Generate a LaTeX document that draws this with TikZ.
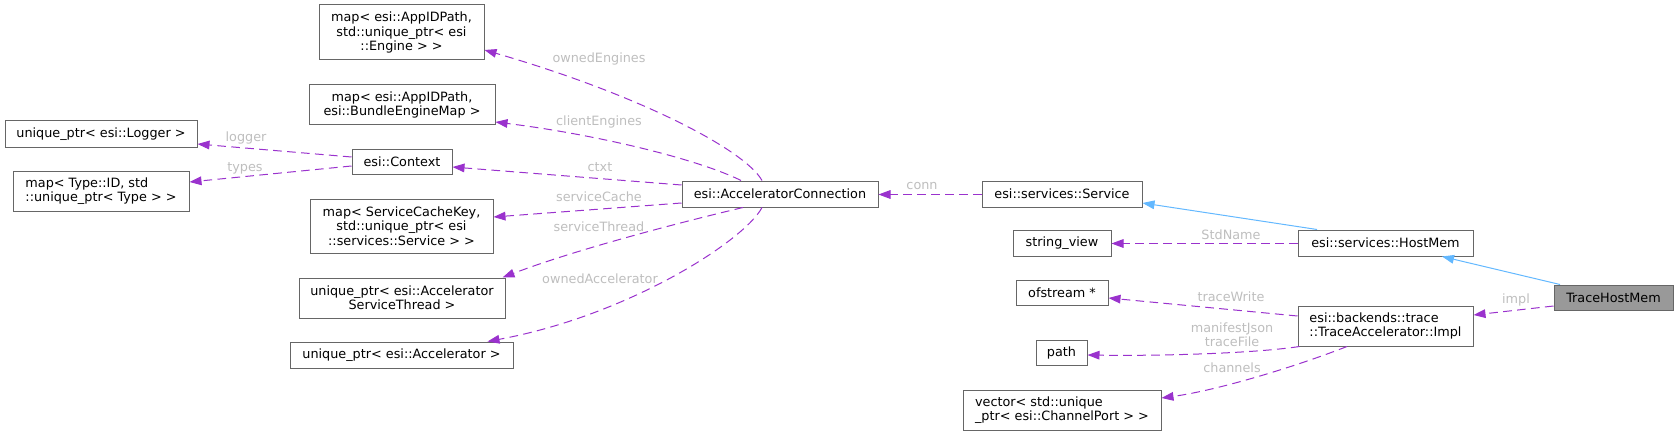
\documentclass[tikz,border=0pt]{standalone}
\usepackage{fontspec}
\setmainfont{DejaVu Sans}
\usetikzlibrary{arrows.meta}
\definecolor{edgepurple}{HTML}{9A32CD}
\definecolor{inhblue}{HTML}{63B8FF}
\definecolor{lblgray}{HTML}{BEBEBE}
\definecolor{boxgray}{HTML}{666666}
\definecolor{fillgray}{HTML}{999999}
\begin{document}
\begin{tikzpicture}[x=0.75pt,y=-0.75pt,
    font=\fontsize{9.6}{10.7}\selectfont,
    cls/.style 2 args={draw=boxgray,fill=white,line width=0.75pt,inner sep=0pt,
        minimum width=#1*0.75pt,minimum height=#2*0.75pt,align=center},
    member/.style={draw=edgepurple,line width=0.75pt,dash pattern=on 6.5pt off 4pt,
        -{Triangle[length=9pt,width=6.5pt]}},
    inherit/.style={draw=inhblue,line width=0.75pt,-{Triangle[length=9pt,width=6.5pt]}},
    lbl/.style={text=lblgray,align=center}]
    \useasboundingbox (0,0) rectangle (1679,435);
    %% classes
    \node[cls={165}{55}] (engines) at (401.5,32.5) {map< esi::AppIDPath,\\std::unique\_ptr< esi\\::Engine > >};
    \node[cls={186}{40}] (bundle) at (402,105) {map< esi::AppIDPath,\\esi::BundleEngineMap >};
    \node[cls={192}{26}] (logger) at (101,134) {unique\_ptr< esi::Logger >};
    \node[cls={100}{25}] (context) at (402,161.5) {esi::Context};
    \node[cls={176}{40},align=left] (types) at (101,191) {map< Type::ID, std\\::unique\_ptr< Type > >};
    \node[cls={183}{54}] (cache) at (401.5,226) {map< ServiceCacheKey,\\std::unique\_ptr< esi\\::services::Service > >};
    \node[cls={206}{40}] (thread) at (402,298) {unique\_ptr< esi::Accelerator\\ServiceThread >};
    \node[cls={223}{26}] (accel) at (401.5,355) {unique\_ptr< esi::Accelerator >};
    \node[cls={196}{26}] (conn) at (780,194) {esi::AcceleratorConnection};
    \node[cls={160}{26}] (service) at (1062,194) {esi::services::Service};
    \node[cls={98}{26}] (strview) at (1062,243) {string\_view};
    \node[cls={92}{25}] (ofstream) at (1062,292.5) {ofstream *};
    \node[cls={51}{25}] (path) at (1061.5,352.5) {path};
    \node[cls={198}{40},align=left] (vector) at (1062,410) {vector< std::unique\\\_ptr< esi::ChannelPort > >};
    \node[cls={175}{26}] (hostmem) at (1385.5,243) {esi::services::HostMem};
    \node[cls={175}{40},align=left] (impl) at (1385.5,326) {esi::backends::trace\\::TraceAccelerator::Impl};
    \node[cls={119}{25},fill=fillgray] (trace) at (1613.5,297.5) {TraceHostMem};
    %% members of the connection
    \draw[member] ([shift={(-18,0)}]conn.north) .. controls (745,150) and (640,95) .. ([shift={(0,17.5)}]engines.east);
    \draw[member] ([shift={(-39,0)}]conn.north) .. controls (700,160) and (600,135) .. ([shift={(0,17)}]bundle.east);
    \draw[member] ([shift={(0,-9)}]conn.west) -- ([shift={(0,5.5)}]context.east);
    \draw[member] ([shift={(0,9)}]conn.west) -- ([shift={(0,-9)}]cache.east);
    \draw[member] ([shift={(-37,0)}]conn.south) .. controls (690,220) and (580,248) .. ([shift={(-3,0)}]thread.north east);
    \draw[member] ([shift={(-18,0)}]conn.south) .. controls (745,240) and (630,315) .. ([shift={(-26,0)}]accel.north east);
    %% members of the context
    \draw[member] ([shift={(0,-4.5)}]context.west) -- ([shift={(0,10)}]logger.east);
    \draw[member] ([shift={(0,4.5)}]context.west) -- ([shift={(0,-9)}]types.east);
    %% service side
    \draw[member] ([shift={(0,0.5)}]service.west) -- ([shift={(0,0.5)}]conn.east);
    \draw[inherit] ([shift={(-68.5,0)}]hostmem.north) -- ([shift={(0,9)}]service.east);
    \draw[member] ([shift={(0,0.5)}]hostmem.west) -- ([shift={(0,0.5)}]strview.east);
    \draw[inherit] ([shift={(-53.5,0)}]trace.north) -- ([shift={(56.5,0)}]hostmem.south);
    \draw[member] ([shift={(0,8.5)}]trace.west) -- ([shift={(0,-11)}]impl.east);
    %% members of the impl
    \draw[member] ([shift={(0,-10)}]impl.west) -- ([shift={(0,5.5)}]ofstream.east);
    \draw[member] ([shift={(2,0)}]impl.south west) .. controls (1250,354) and (1150,356) .. ([shift={(0,2.5)}]path.east);
    \draw[member] ([shift={(-38.5,0)}]impl.south) .. controls (1300,365) and (1220,390) .. ([shift={(0,-12)}]vector.east);
    %% labels
    \foreach \x/\y/\t [count=\i] in {599/59/ownedEngines,599/122/clientEngines,600/167/ctxt,
            599/197/serviceCache,599/227/serviceThread,600/279/ownedAccelerator,246/138/logger,
            245/168/types,922/186/conn,1231/235/StdName,1516/300/impl,1231/297/traceWrite,1232/368/channels}
        \node[lbl] (lbl\i) at (\x,\y) {\t};
    \node[lbl] (lblfile) at (1232,335) {manifestJson\\traceFile};
\end{tikzpicture}
\end{document}
